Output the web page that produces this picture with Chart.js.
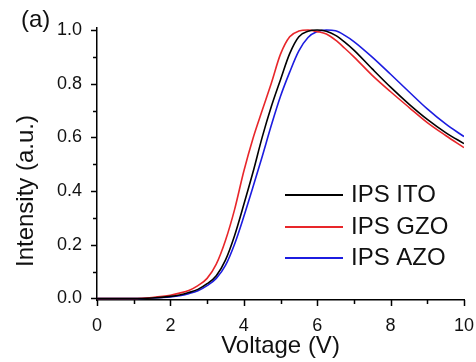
<!DOCTYPE html>
<html>
<head>
<meta charset="utf-8">
<script src="https://cdn.jsdelivr.net/npm/chart.js@4/dist/chart.umd.min.js"></script>
<style>
html,body{margin:0;padding:0;background:#fff;}
#wrap{width:476px;height:362px;position:relative;}
</style>
</head>
<body>
<div id="wrap"><canvas id="c" width="476" height="362"></canvas></div>
<script>
// ---- data ----
const voltages = [0,0.5,1,1.5,2,2.25,2.5,2.75,3,3.25,3.5,3.75,4,4.25,4.5,4.75,5,5.25,5.5,5.75,6,6.25,6.5,6.75,7,7.5,8,8.5,9,9.5,10];
const ipsITO = [0,0,0,0.002,0.008,0.013,0.022,0.034,0.055,0.085,0.143,0.235,0.35,0.47,0.6,0.715,0.815,0.912,0.975,0.995,1.0,0.995,0.98,0.955,0.925,0.855,0.787,0.724,0.667,0.618,0.577];
const ipsGZO = [0,0,0,0.004,0.012,0.02,0.03,0.048,0.075,0.128,0.216,0.332,0.474,0.596,0.7,0.802,0.91,0.975,0.996,1.0,0.994,0.985,0.962,0.932,0.9,0.831,0.77,0.712,0.655,0.607,0.562];
const ipsAZO = [0,0,0,0.002,0.006,0.01,0.018,0.029,0.048,0.075,0.123,0.203,0.305,0.415,0.528,0.645,0.753,0.843,0.922,0.972,0.994,1.0,0.997,0.98,0.957,0.899,0.835,0.77,0.706,0.65,0.603];
const seriesLabels = ['IPS ITO','IPS GZO','IPS AZO'];
const xTickValues = [0,1,2,3,4,5,6,7,8,9,10];
const yTickValues = [0,0.1,0.2,0.3,0.4,0.5,0.6,0.7,0.8,0.9,1.0];
const panelLabel = '(a)';
const xTitle = 'Voltage (V)';
const yTitle = 'Intensity (a.u.)';

const FONT = "'Liberation Sans', Arial, sans-serif";
const colors = ['#000000','#e8262a','#1c1ce0'];
const seriesData = [ipsITO, ipsGZO, ipsAZO];

const datasets = seriesData.map((arr, i) => ({
  label: seriesLabels[i],
  data: voltages.map((v, j) => ({x: v, y: arr[j]})),
  borderColor: colors[i],
  backgroundColor: colors[i],
  borderWidth: 1.6,
  pointRadius: 0,
  fill: false,
  cubicInterpolationMode: 'monotone',
  showLine: true
}));

// draw ticks (major/minor), legend, panel label, y title
const decor = {
  id: 'decor',
  afterDraw(chart) {
    const ctx = chart.ctx;
    const xs = chart.scales.x, ys = chart.scales.y;
    const area = chart.chartArea;
    ctx.save();
    ctx.strokeStyle = '#000';
    ctx.lineWidth = 1.5;
    ctx.beginPath();
    xTickValues.forEach(v => {
      const px = Math.round(xs.getPixelForValue(v)) + 0.5;
      const len = (v % 2 === 0) ? 6 : 4;
      ctx.moveTo(px, area.bottom);
      ctx.lineTo(px, area.bottom + len);
    });
    yTickValues.forEach((v, i) => {
      const py = Math.round(ys.getPixelForValue(v)) + 0.5;
      const len = (i % 2 === 0) ? 6 : 4;
      ctx.moveTo(area.left, py);
      ctx.lineTo(area.left - len, py);
    });
    ctx.stroke();

    // legend
    const lx0 = 285, lx1 = 343, tx = 351;
    const rows = [195, 227, 258];
    ctx.font = '24px ' + FONT;
    ctx.textBaseline = 'middle';
    ctx.textAlign = 'left';
    chart.data.datasets.forEach((ds, i) => {
      ctx.strokeStyle = ds.borderColor;
      ctx.lineWidth = 1.8;
      ctx.beginPath();
      ctx.moveTo(lx0, rows[i]);
      ctx.lineTo(lx1, rows[i]);
      ctx.stroke();
      ctx.fillStyle = '#111';
      ctx.fillText(ds.label, tx, rows[i]);
    });

    // y-axis title
    ctx.save();
    ctx.translate(26, 191);
    ctx.rotate(-Math.PI / 2);
    ctx.textAlign = 'center';
    ctx.textBaseline = 'middle';
    ctx.font = '24px ' + FONT;
    ctx.fillStyle = '#111';
    ctx.fillText(yTitle, 0, 0);
    ctx.restore();

    // panel label
    ctx.font = '24px ' + FONT;
    ctx.textBaseline = 'alphabetic';
    ctx.textAlign = 'left';
    ctx.fillStyle = '#111';
    ctx.fillText(panelLabel, 21, 27);
    ctx.restore();
  }
};

new Chart(document.getElementById('c'), {
  type: 'scatter',
  data: { datasets },
  plugins: [decor],
  options: {
    responsive: false,
    animation: false,
    devicePixelRatio: 1,
    layout: { padding: { left: 0, right: 12, top: 28, bottom: 0 } },
    plugins: { legend: { display: false }, tooltip: { enabled: false } },
    scales: {
      x: {
        type: 'linear',
        min: 0, max: 10,
        afterFit(s) { s.height = 62; s.paddingLeft = 0; s.paddingRight = 0; },
        afterBuildTicks(s) { s.ticks = xTickValues.map(v => ({value: v})); },
        grid: { display: false },
        border: { display: true, color: '#000', width: 1.5 },
        ticks: {
          padding: 7,
          color: '#111',
          font: { family: FONT, size: 18 },
          maxRotation: 0,
          autoSkip: false,
          callback: v => (v % 2 === 0 ? String(v) : '')
        },
        title: {
          display: true, text: xTitle, color: '#111',
          font: { family: FONT, size: 24 },
          padding: { top: 0, bottom: 1 }
        }
      },
      y: {
        type: 'linear',
        min: -0.0056, max: 1.0074,
        afterFit(s) { s.width = 97; s.paddingTop = 0; s.paddingBottom = 0; },
        afterBuildTicks(s) { s.ticks = yTickValues.map(v => ({value: v})); },
        grid: { display: false },
        border: { display: true, color: '#000', width: 1.5 },
        ticks: {
          padding: 7,
          color: '#111',
          font: { family: FONT, size: 18 },
          autoSkip: false,
          callback: (v, i) => (i % 2 === 0 ? Number(v).toFixed(1) : '')
        },
        title: { display: false }
      }
    }
  }
});
</script>
</body>
</html>
